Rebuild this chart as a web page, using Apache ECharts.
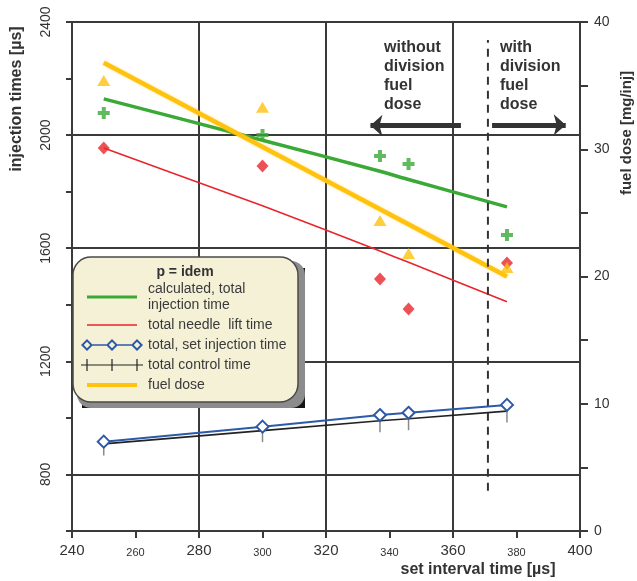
<!DOCTYPE html>
<html>
<head>
<meta charset="utf-8">
<script src="https://cdn.jsdelivr.net/npm/echarts@6/dist/echarts.min.js"></script>
<style>
  html, body { margin: 0; padding: 0; background: #ffffff; }
  #chart { width: 637px; height: 581px; }
</style>
</head>
<body>
<div id="chart"></div>
<script>
// Set interval times [µs] at which the measurements were taken
const intervalTimes = [250, 300, 337, 346, 377];

// Injection times [µs] (left axis)
const calcInjectionCurve = [2128, 1982, 1872, 1843, 1746];
const calcInjectionPoints = [2078, 2000, 1926, 1898, 1647];
const needleLiftCurve = [1954, 1750, 1590, 1550, 1411];
const needleLiftPoints = [1954, 1891, 1491, 1385, 1548];
const setInjectionTime = [916, 969, 1010, 1018, 1046];
const controlTime = [908, 955, 990, 997, 1024];

// Fuel dose [mg/inj] (right axis): trend line and measured points
const fuelDoseTrendX = [250, 377];
const fuelDoseTrend = [36.8, 20.0];
const fuelDosePoints = [35.4, 33.3, 24.4, 21.8, 20.7];

// Boundary between dose without and with division
const divisionX = [371, 371];
const divisionY = [742, 2336];
const arrowLeftX = [362.5, 334];
const arrowRightX = [372.3, 395.5];
const arrowLevel = [2034, 2036];

// Axis ranges and tick steps
const xRange = [240, 400];
const xStep = 20;
const xLabelStep = 40;
const yLeftRange = [600, 2400];
const yLeftStep = 200;
const yLeftLabelStep = 400;
const yRightRange = [0, 40];
const yRightStep = 5;
const yRightLabelStep = 10;

const FONT = '"Liberation Sans", Arial, Helvetica, sans-serif';
const AXIS = '#3a3a3a';
const GREEN = '#3aa935';
const RED = '#e8262a';
const BLUE = '#2c5aa8';
const DARK = '#222222';
const YELLOW = '#ffc20e';

const pair = (xs, ys) => xs.map((x, i) => [x, ys[i]]);

// Legend icons, drawn in a 62 x 14 box
const BOX = 'M0,0M62,14';
const iconGreen = 'path://' + BOX + 'M6,5.5H56V8.5H6Z';
const iconRed = 'path://' + BOX + 'M6,6.3H56V7.7H6Z';
const iconYellow = 'path://' + BOX + 'M6,5H56V9H6Z';
function diamondRing(cx) {
  return 'M' + cx + ',1L' + (cx + 6) + ',7L' + cx + ',13L' + (cx - 6) + ',7Z' +
         'M' + cx + ',3.8L' + (cx - 3.2) + ',7L' + cx + ',10.2L' + (cx + 3.2) + ',7Z';
}
const iconBlue = 'path://' + BOX + 'M10,6.2H27V7.8H10Z' + 'M35,6.2H52V7.8H35Z' +
  diamondRing(6) + diamondRing(31) + diamondRing(56);
const iconBlack = 'path://' + BOX + 'M0,6.4H62V7.6H0Z' +
  'M5.4,1H6.6V13H5.4Z' + 'M30.4,1H31.6V13H30.4Z' + 'M55.4,1H56.6V13H55.4Z';

const NAME_CALC = 'calculated, total\ninjection time';
const NAME_NEEDLE = 'total needle  lift time';
const NAME_SET = 'total, set injection time';
const NAME_CONTROL = 'total control time';
const NAME_DOSE = 'fuel dose';

const chart = echarts.init(document.getElementById('chart'), null, { renderer: 'canvas' });

const option = {
  animation: false,
  backgroundColor: '#ffffff',
  textStyle: { fontFamily: FONT },
  grid: { left: 72, right: 57, top: 22, bottom: 50 },
  xAxis: {
    type: 'value',
    min: xRange[0], max: xRange[1], interval: xStep,
    axisLine: { show: true, lineStyle: { color: AXIS, width: 2 } },
    axisTick: { show: true, length: 7, lineStyle: { color: AXIS, width: 2 } },
    splitLine: { show: true, lineStyle: { color: [AXIS, 'rgba(0,0,0,0)'], width: 2 } },
    axisLabel: {
      margin: 12,
      color: '#333',
      formatter: v => (v % xLabelStep === 0 ? '{a|' + v + '}' : '{b|' + v + '}'),
      rich: {
        a: { fontSize: 15, lineHeight: 16, color: '#333', fontFamily: FONT },
        b: { fontSize: 11, lineHeight: 12, padding: [7, 0, 0, 0], color: '#333', fontFamily: FONT }
      }
    }
  },
  yAxis: [
    {
      type: 'value', position: 'left',
      min: yLeftRange[0], max: yLeftRange[1], interval: yLeftStep,
      axisLine: { show: true, lineStyle: { color: AXIS, width: 2 } },
      axisTick: { show: true, length: 6, lineStyle: { color: AXIS, width: 2 } },
      splitLine: { show: true, lineStyle: { color: ['rgba(0,0,0,0)', AXIS], width: 2 } },
      axisLabel: {
        rotate: 90, margin: 19, fontSize: 14, color: '#333', fontFamily: FONT,
        formatter: v => (v % yLeftLabelStep === 0 ? String(v) : '')
      }
    },
    {
      type: 'value', position: 'right',
      min: yRightRange[0], max: yRightRange[1], interval: yRightStep,
      axisLine: { show: true, lineStyle: { color: AXIS, width: 2 } },
      axisTick: { show: true, length: 8, lineStyle: { color: AXIS, width: 2 } },
      splitLine: { show: false },
      axisLabel: {
        margin: 14, fontSize: 14, color: '#333', fontFamily: FONT,
        formatter: v => (v % yRightLabelStep === 0 ? String(v) : '')
      }
    }
  ],
  legend: {
    orient: 'vertical',
    left: 81, top: 281,
    padding: 0,
    itemWidth: 62, itemHeight: 14, itemGap: 4,
    selectedMode: false,
    z: 20,
    itemStyle: { borderWidth: 0 },
    textStyle: { fontSize: 14, lineHeight: 16, color: '#3a3a3a', fontFamily: FONT },
    data: [
      { name: NAME_CALC, icon: iconGreen, itemStyle: { color: GREEN, borderWidth: 0 } },
      { name: NAME_NEEDLE, icon: iconRed, itemStyle: { color: RED, borderWidth: 0 } },
      { name: NAME_SET, icon: iconBlue, itemStyle: { color: BLUE, borderWidth: 0 } },
      { name: NAME_CONTROL, icon: iconBlack, itemStyle: { color: DARK, borderWidth: 0 } },
      { name: NAME_DOSE, icon: iconYellow, itemStyle: { color: YELLOW, borderWidth: 0 } }
    ]
  },
  graphic: [
    // legend panel with its drop shadow (dark corners peek out behind the grey shadow)
    { type: 'rect', z: 5, silent: true, shape: { x: 82, y: 268, width: 223, height: 140 }, style: { fill: '#151515' } },
    { type: 'rect', z: 6, silent: true, shape: { x: 77, y: 261, width: 228, height: 147, r: 14 }, style: { fill: '#8c8c8c' } },
    { type: 'rect', z: 7, silent: true, shape: { x: 73, y: 257, width: 225, height: 145, r: 18 },
      style: { fill: '#f4f1d7', stroke: '#4a4a4a', lineWidth: 1.5 } },
    { type: 'text', z: 8, silent: true, x: 185, y: 272,
      style: { text: 'p = idem', font: 'bold 14px ' + FONT, fill: '#333', align: 'center', verticalAlign: 'middle', textAlign: 'center', textVerticalAlign: 'middle' } },
    // axis titles
    { type: 'text', silent: true, x: 17, y: 99, rotation: Math.PI / 2,
      style: { text: 'injection times [µs]', font: 'bold 16px ' + FONT, fill: '#333', align: 'center', verticalAlign: 'middle', textAlign: 'center', textVerticalAlign: 'middle' } },
    { type: 'text', silent: true, x: 627, y: 133, rotation: Math.PI / 2,
      style: { text: 'fuel dose [mg/inj]', font: 'bold 15px ' + FONT, fill: '#333', align: 'center', verticalAlign: 'middle', textAlign: 'center', textVerticalAlign: 'middle' } },
    { type: 'text', silent: true, x: 478, y: 570,
      style: { text: 'set interval time [µs]', font: 'bold 16px ' + FONT, fill: '#333', align: 'center', verticalAlign: 'middle', textAlign: 'center', textVerticalAlign: 'middle' } },
    // region annotations
    { type: 'text', silent: true, x: 384, y: 38,
      style: { text: 'without\ndivision\nfuel\ndose', font: 'bold 16px ' + FONT, lineHeight: 19, fill: '#333', align: 'left', verticalAlign: 'top', textAlign: 'left', textVerticalAlign: 'top' } },
    { type: 'text', silent: true, x: 500, y: 38,
      style: { text: 'with\ndivision\nfuel\ndose', font: 'bold 16px ' + FONT, lineHeight: 19, fill: '#333', align: 'left', verticalAlign: 'top', textAlign: 'left', textVerticalAlign: 'top' } }
  ],
  series: [
    {
      name: NAME_CALC, type: 'line', yAxisIndex: 0,
      data: pair(intervalTimes, calcInjectionCurve),
      symbol: 'none', smooth: 0.25, z: 3,
      itemStyle: { color: GREEN },
      lineStyle: { color: GREEN, width: 3.5 }
    },
    {
      name: NAME_NEEDLE, type: 'line', yAxisIndex: 0,
      data: pair(intervalTimes, needleLiftCurve),
      symbol: 'none', smooth: 0.25, z: 3,
      itemStyle: { color: RED },
      lineStyle: { color: RED, width: 1.6 }
    },
    {
      name: NAME_CONTROL, type: 'line', yAxisIndex: 0,
      data: pair(intervalTimes, controlTime),
      symbol: 'path://M0,0H1V1H0Z', symbolSize: [1.5, 13], symbolOffset: [0, 5],
      z: 3,
      itemStyle: { color: '#8a8a8a' },
      lineStyle: { color: DARK, width: 1.6 }
    },
    {
      name: NAME_SET, type: 'line', yAxisIndex: 0,
      data: pair(intervalTimes, setInjectionTime),
      symbol: 'emptyDiamond', symbolSize: 12, z: 4,
      itemStyle: { color: BLUE, borderWidth: 2.5 },
      lineStyle: { color: BLUE, width: 2 }
    },
    {
      name: NAME_DOSE, type: 'line', yAxisIndex: 1,
      data: pair(fuelDoseTrendX, fuelDoseTrend),
      symbol: 'none', z: 3,
      itemStyle: { color: YELLOW },
      lineStyle: { color: YELLOW, width: 4.5, shadowColor: 'rgba(255,194,14,0.45)', shadowBlur: 3 }
    },
    {
      name: 'calculated points', type: 'scatter', yAxisIndex: 0,
      data: pair(intervalTimes, calcInjectionPoints),
      symbol: 'path://M4,0H8V4H12V8H8V12H4V8H0V4H4Z', symbolSize: 12, z: 5,
      itemStyle: { color: GREEN }
    },
    {
      name: 'needle lift points', type: 'scatter', yAxisIndex: 0,
      data: pair(intervalTimes, needleLiftPoints),
      symbol: 'diamond', symbolSize: [12, 13], z: 5,
      itemStyle: { color: RED }
    },
    {
      name: 'fuel dose points', type: 'scatter', yAxisIndex: 1,
      data: pair(intervalTimes, fuelDosePoints),
      symbol: 'triangle', symbolSize: [13, 11], z: 5,
      itemStyle: { color: YELLOW }
    },
    {
      name: 'division', type: 'line', yAxisIndex: 0,
      data: pair(divisionX, divisionY),
      symbol: 'none', silent: true, z: 3,
      lineStyle: { color: '#333', width: 2, type: [8, 6] },
      markLine: {
        silent: true, animation: false,
        symbol: ['none', 'arrow'], symbolSize: [16, 12],
        label: { show: false },
        lineStyle: { color: '#333', width: 5, type: 'solid' },
        data: [
          [{ coord: [arrowLeftX[0], arrowLevel[0]] }, { coord: [arrowLeftX[1], arrowLevel[0]] }],
          [{ coord: [arrowRightX[0], arrowLevel[1]] }, { coord: [arrowRightX[1], arrowLevel[1]] }]
        ]
      }
    }
  ]
};

chart.setOption(option);
</script>
</body>
</html>
